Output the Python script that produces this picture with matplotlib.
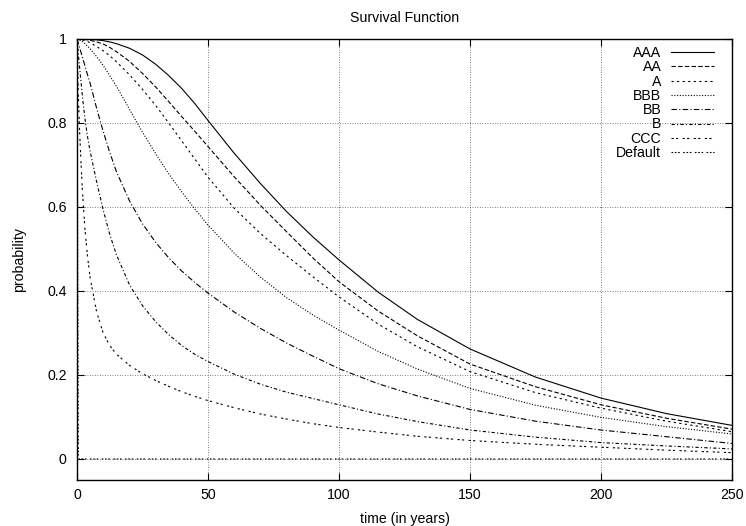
import numpy as np
import matplotlib
matplotlib.use("Agg")
import matplotlib.pyplot as plt

plt.rcParams["font.family"] = ["Liberation Sans", "DejaVu Sans"]
plt.rcParams["font.size"] = 10.2

# time grid (years) and survival probabilities
t = [0, 0.5, 1, 2, 3, 4, 5, 7.5, 10, 12.5, 15, 20, 25, 30, 35, 40, 45, 50,
     60, 70, 80, 90, 100, 115, 130, 150, 175, 200, 225, 250]

aaa = [1, 1, 1, 1, 1, 1, 0.999, 0.998, 0.996, 0.993, 0.989, 0.978, 0.962,
       0.94, 0.913, 0.882, 0.846, 0.806, 0.728, 0.656, 0.589, 0.529, 0.474,
       0.397, 0.332, 0.262, 0.195, 0.145, 0.108, 0.080]
aa = [1, 1, 1, 0.999, 0.999, 0.998, 0.997, 0.993, 0.988, 0.98, 0.97, 0.947,
      0.918, 0.886, 0.851, 0.815, 0.78, 0.744, 0.672, 0.604, 0.541, 0.479,
      0.422, 0.352, 0.293, 0.226, 0.172, 0.129, 0.097, 0.071]
a = [1, 1, 0.999, 0.998, 0.996, 0.994, 0.991, 0.982, 0.972, 0.96, 0.946,
     0.915, 0.88, 0.842, 0.8, 0.757, 0.714, 0.671, 0.597, 0.537, 0.484,
     0.434, 0.386, 0.321, 0.267, 0.208, 0.158, 0.121, 0.09, 0.065]
bbb = [1, 0.999, 0.998, 0.994, 0.989, 0.983, 0.977, 0.958, 0.937, 0.913,
       0.888, 0.833, 0.778, 0.727, 0.679, 0.636, 0.595, 0.557, 0.49, 0.433,
       0.384, 0.343, 0.307, 0.256, 0.214, 0.168, 0.128, 0.099, 0.077, 0.0595]
bb = [1, 0.99, 0.979, 0.958, 0.937, 0.915, 0.895, 0.835, 0.78, 0.73, 0.685,
      0.615, 0.56, 0.516, 0.479, 0.4475, 0.42, 0.395, 0.35, 0.311, 0.276,
      0.245, 0.215, 0.179, 0.15, 0.118, 0.09, 0.069, 0.053, 0.037]
b = [1, 0.965, 0.932, 0.868, 0.812, 0.768, 0.733, 0.66, 0.593, 0.535, 0.487,
     0.415, 0.365, 0.327, 0.296, 0.27, 0.249, 0.232, 0.202, 0.178, 0.159,
     0.144, 0.129, 0.107, 0.089, 0.069, 0.052, 0.039, 0.031, 0.024]
ccc = [1, 0.87, 0.78, 0.645, 0.55, 0.483, 0.432, 0.35, 0.3, 0.27, 0.25,
       0.223, 0.203, 0.187, 0.173, 0.16, 0.149, 0.139, 0.122, 0.107, 0.095,
       0.084, 0.075, 0.064, 0.054, 0.044, 0.035, 0.028, 0.021, 0.015]
default = [1] + [0] * 29

labels = ["AAA", "AA", "A", "BBB", "BB", "B", "CCC", "Default"]
series = [aaa, aa, a, bbb, bb, b, ccc, default]

# gnuplot-like dash patterns
styles = [
    "-",
    (0, (4, 2)),
    (0, (2, 3)),
    (0, (1, 1.5)),
    (0, (5, 2, 1, 2)),
    (0, (3, 2, 1, 2)),
    (0, (2, 2, 2, 4)),
    (0, (1.5, 1.5, 1.5, 1.5, 1.5, 3)),
]

fig = plt.figure(figsize=(7.46, 5.26), dpi=100)
ax = fig.add_axes([0.1032, 0.0875, 0.878, 0.8384])

for ys, lab, ls in zip(series, labels, styles):
    ax.plot(t, ys, color="black", lw=0.8, linestyle=ls, label=lab)

ax.set_xlim(0, 250)
ax.set_ylim(-0.05, 1)
ax.set_xticks([0, 50, 100, 150, 200, 250])
ax.set_yticks([0, 0.2, 0.4, 0.6, 0.8, 1])
ax.set_yticklabels(["0", "0.2", "0.4", "0.6", "0.8", "1"])
ax.grid(True, color="#555555", linestyle=(0, (1, 2)), linewidth=0.6)
ax.tick_params(direction="in", length=5, top=True, right=True, width=0.8)
ax.tick_params(axis="x", pad=6)
ax.tick_params(axis="y", pad=7.5)
for s in ax.spines.values():
    s.set_linewidth(1.0)

ax.set_title("Survival Function", fontsize=10.2, pad=12)
ax.set_xlabel("time (in years)", labelpad=7)
ax.set_ylabel("probability", labelpad=15)

leg = ax.legend(loc="upper right", bbox_to_anchor=(0.983, 1.0),
                frameon=False, markerfirst=False, handlelength=3.0,
                labelspacing=0.02, borderaxespad=0.1, handletextpad=0.7)
for txt in leg.get_texts():
    txt.set_ha("right")

fig.savefig("out.png", dpi=100)
